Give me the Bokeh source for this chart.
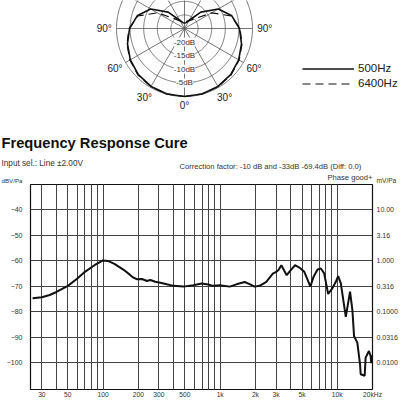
import numpy as np
from bokeh.plotting import figure
from bokeh.models import Range1d, FixedTicker, LinearAxis, Label, Legend, LegendItem
from bokeh.layouts import column
from bokeh.embed import file_html
from bokeh.resources import INLINE

# ---------------- polar pattern data (dB vs angle, degrees) ----------------
polar_angles = [0, 15, 30, 45, 60, 75, 90, 105, 120, 135, 150, 165, 180,
                195, 210, 225, 240, 255, 270, 285, 300, 315, 330, 345, 360]
polar_500hz = [0.0, -0.1, -0.4, -1.0, -2.0, -3.3, -4.8, -7.0, -10.6, -16.5, -21.5, -22.8, -23.0,
               -22.8, -21.5, -16.5, -10.6, -7.0, -4.8, -3.3, -2.0, -1.0, -0.4, -0.1, 0.0]
polar_6400hz = [0.0, -0.1, -0.3, -0.8, -1.8, -3.1, -4.6, -7.2, -13.5, -20.0, -21.8, -22.3, -22.5,
                -22.3, -21.8, -20.0, -13.5, -7.2, -4.6, -3.1, -1.8, -0.8, -0.3, -0.1, 0.0]
ring_levels = [0, -5, -10, -15, -20]
ring_labels = ["", "-5dB", "-10dB", "-15dB", "-20dB"]
spoke_angles = [0, 30, 60, 90, 120, 150, 180, 210, 240, 270, 300, 330]
angle_label_angles = [0, 30, 60, 90, 270, 300, 330]
angle_label_texts = ["0°", "30°", "60°", "90°", "90°", "60°", "30°"]
legend_labels = ["500Hz", "6400Hz"]
db_floor = -25.0

# ---------------- frequency response data ----------------
freq_hz = [25, 30, 35, 40, 50, 60, 70, 85, 100, 110, 125, 150, 170, 182, 195, 215, 237, 253,
           279, 308, 350, 400, 485, 590, 694, 790, 871, 994, 1207, 1377, 1620, 1786, 1970,
           2172, 2477, 2817, 3010, 3150, 3330, 3700, 4040, 4360, 4750, 5230, 5520, 5890,
           6280, 6790, 7250, 7730, 8360, 9100, 9720, 10180, 10730, 11830, 12860, 13460,
           13920, 14840, 15650, 15860, 17150, 17470, 18650, 19280, 19500, 19800]
level_dbv = [-74.7, -74.3, -73.4, -72.2, -69.8, -67.0, -64.3, -61.6, -59.8, -60.0, -61.2, -63.5,
             -65.5, -66.6, -67.2, -67.1, -67.9, -67.5, -68.2, -68.6, -69.2, -69.8, -70.1, -69.6,
             -68.9, -69.3, -69.8, -69.6, -70.1, -69.2, -68.3, -69.1, -70.1, -69.8, -68.2, -65.0,
             -64.3, -63.6, -61.7, -65.6, -63.4, -61.7, -62.6, -64.3, -66.9, -70.1, -66.2, -63.4,
             -63.0, -64.9, -73.0, -70.7, -68.2, -66.0, -68.8, -82.0, -72.1, -79.2, -89.6, -92.1,
             -100.6, -104.5, -105.1, -98.0, -95.4, -97.4, -100.2, -97.0]
y_ticks = [-40, -50, -60, -70, -80, -90, -100]
right_tick_labels = ["10.00", "3.16", "1.000", "0.316", "0.1000", "0.0316", "0.0100"]
x_tick_values = [30, 50, 100, 200, 300, 500, 1000, 2000, 3000, 5000, 10000, 20000]
x_tick_labels = ["30", "50", "100", "200", "300", "500", "1k", "2k", "3k", "5k", "10k", "20kHz"]
x_range_hz = (24, 20000)
y_range_db = (-110.5, -30)

title_text = "Frequency Response Cure"
input_text = "Input sel.: Line \u00b12.00V"
corr_text = "Correction factor: -10 dB  and -33dB -69.4dB (Diff: 0.0)"
phase_text = "Phase good+"
left_unit = "dBV/Pa"
right_unit = "mV/Pa"

SANS = "Liberation Sans"

W = 400
H1 = 183           # top figure: polar + legend + headings
H2 = 400 - H1      # bottom figure: frequency response

# ---------------- polar + headings figure ----------------
R = 68.0            # px for the 0 dB ring
CX, CY = 184, 28    # pole position in figure px

p1 = figure(width=W, height=H1, output_backend="svg", toolbar_location=None,
            x_range=Range1d(-CX / R, (W - CX) / R), y_range=Range1d(-(H1 - CY) / R, CY / R),
            x_axis_location=None, y_axis_location=None, min_border=0)
p1.frame_align = False
p1.grid.visible = False
p1.outline_line_color = None
p1.background_fill_color = "white"


def to_r(db):
    return np.clip((np.asarray(db, dtype=float) - db_floor) / -db_floor, 0, None)


t = np.linspace(0, 2 * np.pi, 361)
for lvl in ring_levels:
    rr = float(to_r(lvl))
    p1.line(rr * np.cos(t), rr * np.sin(t), line_color="#555", line_width=0.8)

sa = np.radians(spoke_angles)
p1.segment(x0=np.zeros(len(sa)), y0=np.zeros(len(sa)), x1=np.sin(sa), y1=-np.cos(sa),
           line_color="#555", line_width=0.8)

pa = np.radians(polar_angles)
r5 = to_r(polar_500hz)
r64 = to_r(polar_6400hz)
l500 = p1.line(r5 * np.sin(pa), -r5 * np.cos(pa), line_color="#111", line_width=1.6)
l6400 = p1.line(r64 * np.sin(pa), -r64 * np.cos(pa), line_color="#111", line_width=1.2,
                line_dash="8 5")

for lvl, txt in zip(ring_levels, ring_labels):
    if not txt:
        continue
    p1.add_layout(Label(x=0, y=-float(to_r(lvl)), text=txt, text_align="center",
                        text_baseline="middle", text_font=SANS, text_font_size="8px",
                        text_color="#333", background_fill_color="white",
                        background_fill_alpha=1.0))

for ang, txt in zip(angle_label_angles, angle_label_texts):
    a = np.radians(ang)
    rl = 1.13 if ang == 0 else 1.18
    p1.add_layout(Label(x=rl * np.sin(a), y=-rl * np.cos(a), text=txt, text_align="center",
                        text_baseline="middle", text_font=SANS, text_font_size="10px",
                        text_color="#222"))

legend = Legend(items=[LegendItem(label=legend_labels[0], renderers=[l500]),
                       LegendItem(label=legend_labels[1], renderers=[l6400])],
                location=(302, H1 - 90.5), glyph_width=52, glyph_height=15,
                label_height=15, label_standoff=4, spacing=0, padding=0, margin=0,
                border_line_color=None, background_fill_alpha=0,
                label_text_font=SANS, label_text_font_size="11.5px", label_text_color="#222")
p1.add_layout(legend)


def head(px, py, text, **kw):
    # px, py: page position (top-left origin) -> screen units of p1 (bottom-left origin)
    p1.add_layout(Label(x=px, y=H1 - py, x_units="screen", y_units="screen",
                        text=text, text_baseline="middle", **kw))


head(1, 142, title_text, text_font=SANS, text_font_style="bold", text_font_size="14.7px",
     text_color="#111")
head(1, 163, input_text, text_font=SANS, text_font_size="8.2px", text_color="#333")
head(179, 166, corr_text, text_font=SANS, text_font_size="7.6px", text_color="#333")
head(372, 177, phase_text, text_font=SANS, text_font_size="7.6px", text_color="#333",
     text_align="right")
head(1, 180, left_unit, text_font=SANS, text_font_size="6.2px", text_color="#333")
head(376, 180, right_unit, text_font=SANS, text_font_size="6.6px", text_color="#333")

# ---------------- frequency response figure ----------------
p2 = figure(width=W, height=H2, output_backend="svg", toolbar_location=None,
            x_axis_type="log", x_range=Range1d(*x_range_hz), y_range=Range1d(*y_range_db),
            min_border_left=30, min_border_right=W - 374,
            min_border_top=184 - H1, min_border_bottom=400 - 391)
p2.frame_align = False
p2.add_layout(LinearAxis(), "right")
p2.background_fill_color = "white"
p2.outline_line_color = "#111"
p2.outline_line_width = 1.2

for ax in p2.axis:
    ax.axis_line_color = None
    ax.major_tick_line_color = None
    ax.minor_tick_line_color = None
    ax.major_tick_out = 0
    ax.major_tick_in = 0
    ax.minor_tick_out = 0
    ax.minor_tick_in = 0
    ax.major_label_text_font = SANS
    ax.major_label_text_font_size = "7px"
    ax.major_label_text_color = "#333"

p2.xaxis.ticker = FixedTicker(ticks=x_tick_values)
p2.xaxis.major_label_overrides = {v: s for v, s in zip(x_tick_values, x_tick_labels)}
p2.xaxis.major_label_standoff = 1
p2.xaxis.major_label_text_font_size = "6.7px"

p2.yaxis[0].ticker = FixedTicker(ticks=y_ticks)
p2.yaxis[0].major_label_standoff = 8
p2.yaxis[1].ticker = FixedTicker(ticks=y_ticks)
p2.yaxis[1].major_label_overrides = {v: s for v, s in zip(y_ticks, right_tick_labels)}
p2.yaxis[1].major_label_standoff = 4

grid_freqs = [m * 10 ** e for e in range(1, 5) for m in range(1, 10)
              if x_range_hz[0] < m * 10 ** e <= x_range_hz[1]]
p2.xgrid.ticker = FixedTicker(ticks=grid_freqs)
p2.ygrid.ticker = FixedTicker(ticks=y_ticks)
for g in p2.grid:
    g.grid_line_color = "#444"
    g.grid_line_width = 1
    g.grid_line_alpha = 1

p2.line(freq_hz, level_dbv, line_color="#111", line_width=2)

layout = column(p1, p2, spacing=0)

open("out.html", "w").write(file_html(layout, INLINE))
